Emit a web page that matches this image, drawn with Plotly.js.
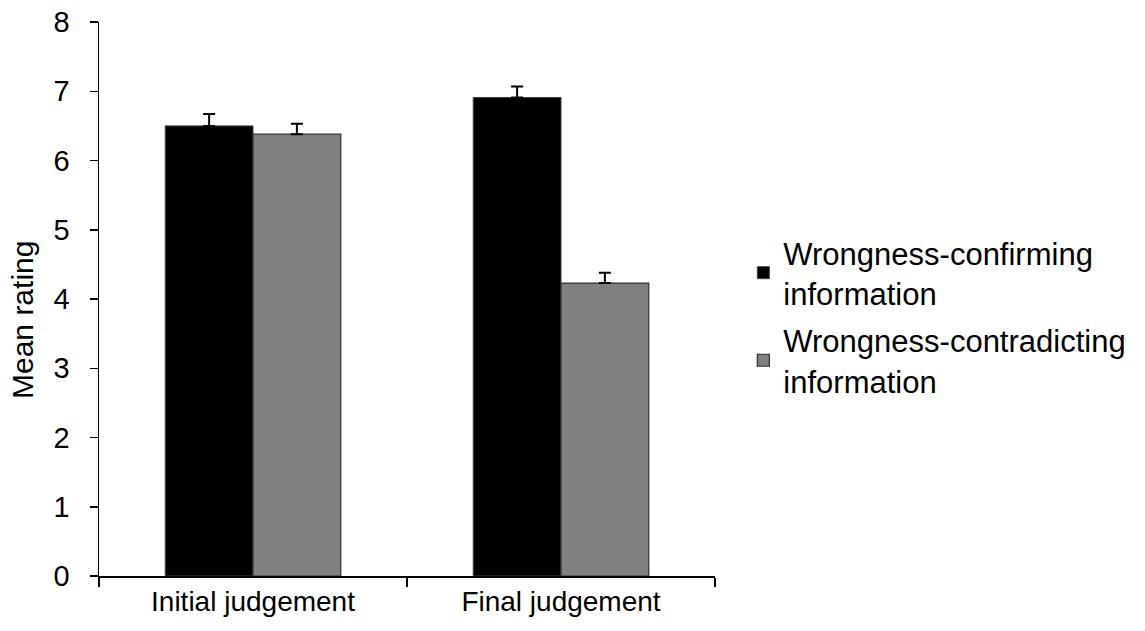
<!DOCTYPE html>
<html>
<head>
<meta charset="utf-8">
<script src="https://cdn.plot.ly/plotly-3.0.1.min.js"></script>
<style>html,body{margin:0;padding:0;background:#fff;}#chart{width:1145px;height:631px;}</style>
</head>
<body>
<div id="chart"></div>
<script>
const categories = ["Initial judgement", "Final judgement"];
const seriesNames = ["Wrongness-confirming<br>information", "Wrongness-contradicting<br>information"];
const confirming = [6.50, 6.91];
const confirmingErr = [0.17, 0.16];
const contradicting = [6.38, 4.23];
const contradictingErr = [0.15, 0.15];
const yTicks = [0, 1, 2, 3, 4, 5, 6, 7, 8];
const yTitle = "Mean rating";

const font = "Liberation Sans, Arial, sans-serif";

const traces = [
  {
    type: "bar", x: categories, y: confirming, name: seriesNames[0],
    marker: {color: "#000000", line: {color: "#404040", width: 1}},
    error_y: {type: "data", array: confirmingErr, symmetric: false, arrayminus: [0, 0], color: "#000", thickness: 2, width: 6},
    legendgroup: "a"
  },
  {
    type: "bar", x: categories, y: contradicting, name: seriesNames[1],
    marker: {color: "#808080", line: {color: "#303030", width: 1.2}},
    error_y: {type: "data", array: contradictingErr, symmetric: false, arrayminus: [0, 0], color: "#000", thickness: 2, width: 6},
    legendgroup: "b"
  }
];

const layout = {
  width: 1145, height: 631,
  margin: {l: 99, r: 430, t: 22, b: 55, pad: 0},
  paper_bgcolor: "#fff", plot_bgcolor: "#fff",
  font: {family: font, color: "#000", size: 28},
  barmode: "group",
  bargap: 0.43,
  bargroupgap: 0,
  showlegend: true,
  legend: {
    x: 1.046, xanchor: "left", y: 0.632, yanchor: "top",
    font: {family: font, size: 31, color: "#000"},
    tracegroupgap: 4,
    itemwidth: 30,
    bgcolor: "rgba(0,0,0,0)"
  },
  xaxis: {
    type: "category",
    showline: true, linecolor: "#000", linewidth: 1.5,
    ticks: "outside", tickson: "boundaries", ticklen: 9, tickwidth: 1.5, tickcolor: "#000",
    tickfont: {family: font, size: 28, color: "#000"},
    showgrid: false, zeroline: false,
    range: [-0.5, 1.5]
  },
  yaxis: {
    range: [0, 8], tickvals: yTicks, ticktext: yTicks.map(String),
    showline: true, linecolor: "#000", linewidth: 1.5,
    ticks: "outside", ticklen: 8, tickwidth: 1.5, tickcolor: "#000",
    ticklabelstandoff: 14,
    tickfont: {family: font, size: 29, color: "#000"},
    showgrid: false, zeroline: false
  },
  annotations: [{
    text: yTitle, textangle: -90, showarrow: false,
    xref: "paper", x: -0.123, xanchor: "center",
    yref: "y", y: 3.70, yanchor: "middle",
    font: {family: font, size: 30, color: "#000"}
  }]
};

Plotly.newPlot("chart", traces, layout, {displayModeBar: false, staticPlot: true});
</script>
</body>
</html>
